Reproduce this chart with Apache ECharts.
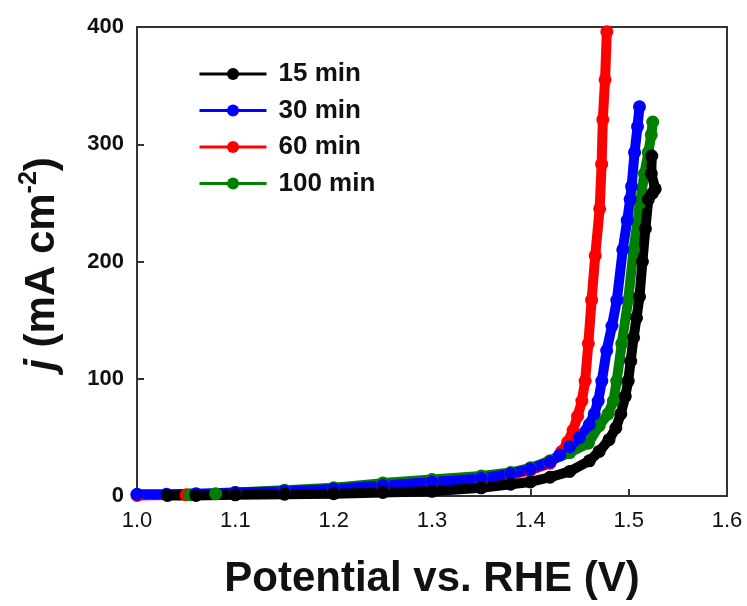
<!DOCTYPE html>
<html><head><meta charset="utf-8">
<script src="https://cdn.jsdelivr.net/npm/echarts/dist/echarts.min.js"></script>
<style>html,body{margin:0;padding:0;background:#fff}#c{width:747px;height:606px}</style>
</head><body><div id="c"></div>
<script>
// Tick labels
const xTicks = [1.0, 1.1, 1.2, 1.3, 1.4, 1.5, 1.6];
const yTicks = [0, 100, 200, 300, 400];
const seriesNames = ['15 min', '30 min', '60 min', '100 min'];

// 15 min (black)
const v15 = [1.031,1.06,1.10,1.15,1.20,1.25,1.30,1.35,1.38,1.40,1.42,1.44,1.46,1.47,1.48,1.487,1.492,1.4965,1.4995,1.502,1.505,1.508,1.511,1.514,1.517,1.52,1.524,1.527,1.523,1.5235];
const j15 = [0.5,0.5,1,1.5,2,3,4,7,10,12,16,21,30,38,48,58,70,85,98,115,135,152,170,200,228,253,258,262,275,290];
// 30 min (blue)
const v30 = [1.00,1.03,1.06,1.10,1.15,1.20,1.25,1.30,1.35,1.38,1.40,1.42,1.43,1.44,1.45,1.46,1.465,1.469,1.4727,1.4776,1.483,1.488,1.494,1.4985,1.5015,1.503,1.506,1.509,1.511];
const j30 = [1.5,1.5,2,3,4,6,9,12,15,19,23,29,35,42,50,61,70,81,98,124,145,167,210,235,253,264,293,315,332];
// 60 min (red)
const v60 = [1.00,1.05,1.10,1.15,1.20,1.25,1.30,1.35,1.38,1.40,1.42,1.432,1.438,1.4435,1.448,1.4524,1.4557,1.459,1.4623,1.466,1.4705,1.4725,1.4737,1.476,1.4778];
const j60 = [0.5,1,2,3,5,8,11,14,18,22,28,38,46,56,68,81,98,130,167,205,245,283,321,355,396];
// 100 min (green)
const v100 = [1.054,1.08,1.10,1.15,1.20,1.25,1.30,1.35,1.38,1.40,1.42,1.44,1.459,1.47,1.479,1.4845,1.4878,1.493,1.4995,1.505,1.5115,1.516,1.52,1.523,1.5245];
const j100 = [1,2,3,5,7,11,14,17,20,24,30,37,45,60,70,81,98,130,167,210,250,275,293,308,319];

const pairs = (v, j) => v.map((x, i) => [x, j[i]]);
const mk = (name, color, v, j) => ({
  name, type: 'line', data: pairs(v, j), symbol: 'circle', symbolSize: 13,
  showSymbol: true, clip: false, itemStyle: { color }, lineStyle: { color, width: 10 },
  emphasis: { disabled: true }, animation: false
});

const chart = echarts.init(document.getElementById('c'), null, { renderer: 'canvas' });
const axisCol = '#333';
const ff = 'Liberation Sans, Arial';
chart.setOption({
  backgroundColor: '#ffffff',
  animation: false,
  grid: { left: 137, top: 27, right: 20, bottom: 110, show: true, borderColor: axisCol, borderWidth: 2, containLabel: false, outerBoundsMode: 'none' },
  legend: {
    data: seriesNames, orient: 'vertical', left: 193, top: 56,
    itemWidth: 67, itemHeight: 15, itemGap: 10.5,
    lineStyle: { width: 3 },
    textStyle: { fontFamily: ff, fontWeight: 'bold', fontSize: 26, lineHeight: 26, color: '#111', padding: [0, 0, 0, 7] }
  },
  xAxis: {
    type: 'value', min: xTicks[0], max: xTicks[xTicks.length - 1], interval: 0.1,
    axisLine: { show: true, lineStyle: { color: axisCol, width: 2 } },
    axisTick: { show: true, inside: true, length: 7, lineStyle: { color: axisCol, width: 2 } },
    splitLine: { show: false },
    axisLabel: { formatter: v => v.toFixed(1), fontFamily: ff, fontSize: 22, color: '#111', margin: 14 }
  },
  yAxis: {
    type: 'value', min: yTicks[0], max: yTicks[yTicks.length - 1], interval: 100,
    axisLine: { show: true, lineStyle: { color: axisCol, width: 2 } },
    axisTick: { show: true, inside: true, length: 7, lineStyle: { color: axisCol, width: 2 } },
    splitLine: { show: false },
    axisLabel: { fontFamily: ff, fontWeight: 'bold', fontSize: 22, color: '#111', margin: 13 }
  },
  graphic: [
    { type: 'text', x: 432, y: 579, style: { text: 'Potential vs. RHE (V)', fontFamily: ff, fontWeight: 'bold', fontSize: 42, fill: '#111', align: 'center', verticalAlign: 'middle' } },
    { type: 'text', x: 42, y: 264, rotation: Math.PI / 2, style: {
        text: '{i|j}{n| (mA cm}{s|-2}{n|)}', align: 'center', verticalAlign: 'middle', fill: '#111',
        rich: {
          i: { fontFamily: ff, fontWeight: 'bold', fontStyle: 'italic', fontSize: 42, lineHeight: 50 },
          n: { fontFamily: ff, fontWeight: 'bold', fontSize: 42, lineHeight: 50 },
          s: { fontFamily: ff, fontWeight: 'bold', fontSize: 25, lineHeight: 50, verticalAlign: 'top', padding: [0, 0, 18, 0] }
        }
      } }
  ],
  series: [
    mk('60 min', '#ff0000', v60, j60),
    mk('100 min', '#008000', v100, j100),
    mk('30 min', '#0000ff', v30, j30),
    mk('15 min', '#000000', v15, j15)
  ]
});
</script></body></html>
